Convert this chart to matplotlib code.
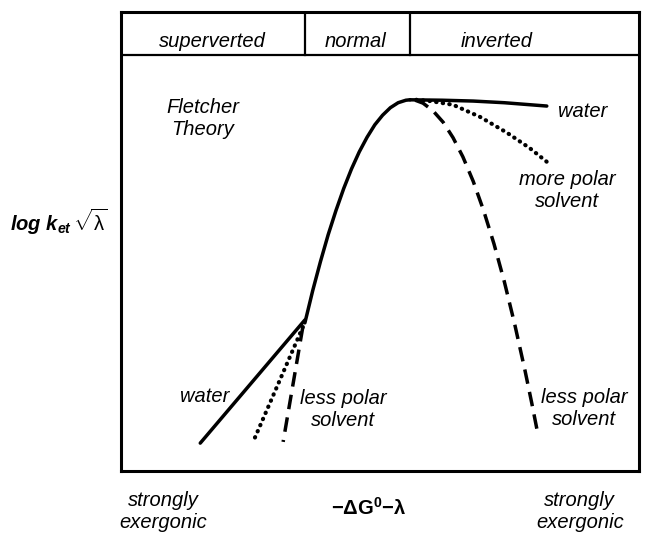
import matplotlib
matplotlib.use("Agg")
import matplotlib.pyplot as plt

plt.rcParams['font.family'] = ['Liberation Sans', 'DejaVu Sans']
plt.rcParams['mathtext.fontset'] = 'custom'
plt.rcParams['mathtext.rm'] = 'Liberation Sans'
plt.rcParams['mathtext.it'] = 'Liberation Sans:italic'
plt.rcParams['mathtext.bf'] = 'Liberation Sans:bold'
plt.rcParams['mathtext.bfit'] = 'Liberation Sans:bold:italic'

# regions along the driving-force axis
region_edges = [0, 35.5, 55.8, 100]
region_names = ["superverted", "normal", "inverted"]
region_label_x = [17.6, 45.2, 72.6]

# normal region, rising to the maximum (shared by all solvents)
rise_x = [35.5, 37.0, 38.5, 40.0, 41.5, 43.0, 44.5, 46.0, 47.5, 49.0, 50.5, 52.0, 53.5, 55.0, 55.8]
rise_y = [35.6, 43.3, 50.3, 56.8, 62.6, 67.9, 72.6, 76.7, 80.2, 83.2, 85.5, 87.3, 88.5, 89.1, 89.2]

# inverted region
water_inv_x = [55.8, 62.0, 68.0, 74.0, 82.2]
water_inv_y = [89.2, 89.1, 88.9, 88.5, 87.7]
morepolar_x = [57.0, 59.7, 64.1, 69.3, 74.5, 78.9, 82.2]
morepolar_y = [89.2, 88.9, 88.0, 85.1, 81.3, 77.6, 74.3]
lesspolar_inv_x = [56.8, 58.3, 60.2, 62.2, 64.1, 66.0, 68.0, 70.0, 72.0, 74.0, 76.0, 78.0, 79.3, 80.3]
lesspolar_inv_y = [89.1, 88.4, 86.6, 83.8, 80.1, 75.5, 69.6, 62.6, 54.6, 45.5, 35.3, 24.1, 16.3, 10.0]

# superverted region
water_sup_x = [35.5, 15.3]
water_sup_y = [36.3, 6.7]
midpolar_sup_x = [35.1, 25.5]
midpolar_sup_y = [34.6, 7.0]
lesspolar_sup_x = [35.1, 31.3]
lesspolar_sup_y = [34.6, 7.0]

fig = plt.figure(figsize=(6.47, 5.35), dpi=100)
ax = fig.add_axes([121 / 647, 64 / 535, 518 / 647, 459 / 535])
ax.set_xlim(0, 100)
ax.set_ylim(0, 110.3)
ax.set_xticks([])
ax.set_yticks([])
for s in ax.spines.values():
    s.set_linewidth(2.2)

lw = 2.5
solid = dict(color="black", lw=lw, solid_capstyle="round", solid_joinstyle="round")
dotted = dict(color="black", lw=3.0, linestyle=(0, (0.1, 1.5)), dash_capstyle="round")
dashed = dict(color="black", lw=lw, linestyle=(0, (4.2, 2.4)))

ax.plot(rise_x, rise_y, **solid)
ax.plot(water_inv_x, water_inv_y, **solid)
ax.plot(morepolar_x, morepolar_y, **dotted)
ax.plot(lesspolar_inv_x, lesspolar_inv_y, **dashed)
ax.plot(water_sup_x, water_sup_y, **solid)
ax.plot(midpolar_sup_x, midpolar_sup_y, **dotted)
ax.plot(lesspolar_sup_x, lesspolar_sup_y, **dashed)

# header band with the region names
ax.axhline(100, color="black", lw=1.6)
for edge in region_edges[1:-1]:
    ax.plot([edge, edge], [100, 110.3], color="black", lw=1.6)
for name, x in zip(region_names, region_label_x):
    ax.text(x, 101.9, name, ha="center", va="baseline", style="italic", fontsize=14.5)

tkw = dict(ha="center", va="center", style="italic", fontsize=14.5, linespacing=1.2)
ax.text(15.8, 84.8, "Fletcher\nTheory", **tkw)
ax.text(89.2, 86.3, "water", **tkw)
ax.text(86.1, 67.5, "more polar\nsolvent", **tkw)
ax.text(89.4, 15.1, "less polar\nsolvent", **tkw)
ax.text(16.2, 17.8, "water", **tkw)
ax.text(42.9, 14.7, "less polar\nsolvent", **tkw)

fig.text(0.252, 0.043, "strongly\nexergonic", **tkw)
fig.text(0.896, 0.043, "strongly\nexergonic", **tkw)
fig.text(369 / 647, 1 - 508 / 535, r"$\mathbf{{-}\Delta G^0{-}\lambda}$", ha="center", va="center",
         fontsize=14.5)
fig.text(59 / 647, 1 - 222 / 535, r"$\mathbfit{log\ k_{et}}\,\sqrt{\mathrm{\lambda}}$",
         ha="center", va="center", fontsize=14.5)

fig.savefig("out.png", dpi=100)
